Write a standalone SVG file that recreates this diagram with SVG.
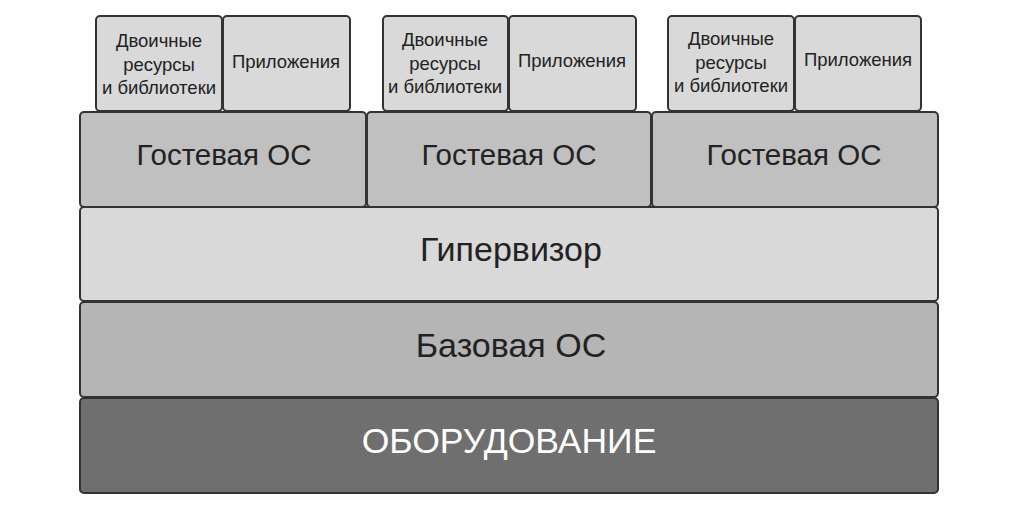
<svg xmlns="http://www.w3.org/2000/svg" width="1025" height="517" viewBox="0 0 1025 517">
<style>
rect{stroke:#333;stroke-width:2;}
.s{fill:#d9d9d9}
.g{fill:#c0c0c0}
.h{fill:#d9d9d9}
.b{fill:#b5b5b5}
.w{fill:#6f6f6f}
text{font-family:"Liberation Sans",Arial,sans-serif;text-anchor:middle;fill:#222}
.t16{font-size:18.5px}
.t26{font-size:29.5px}
.t30{font-size:34px}
.t35{font-size:35.5px}
.white{fill:#fff}
</style>
<rect width="1025" height="517" fill="#fff" style="stroke:none"/>
<g id="hw"><rect class="w" x="80" y="398" width="858" height="95" rx="4"/><text class="t35 white" x="509" y="453">ОБОРУДОВАНИЕ</text></g>
<g id="base"><rect class="b" x="80" y="302" width="858" height="95" rx="4"/><text class="t30" x="511" y="357">Базовая ОС</text></g>
<g id="hyp"><rect class="h" x="80" y="207" width="858" height="94" rx="4"/><text class="t30" x="511" y="261">Гипервизор</text></g>
<g id="g1"><rect class="g" x="80" y="112" width="286" height="95" rx="4"/><text class="t26" x="224" y="165">Гостевая ОС</text></g>
<g id="g2"><rect class="g" x="367" y="112" width="284" height="95" rx="4"/><text class="t26" x="509" y="165">Гостевая ОС</text></g>
<g id="g3"><rect class="g" x="652" y="112" width="286" height="95" rx="4"/><text class="t26" x="794" y="165">Гостевая ОС</text></g>
<g id="b1"><rect class="s" x="96" y="16" width="126" height="95" rx="4"/><text class="t16"><tspan x="159" y="47">Двоичные</tspan><tspan x="159" y="71">ресурсы</tspan><tspan x="159" y="94">и библиотеки</tspan></text></g>
<g id="a1"><rect class="s" x="223" y="16" width="127" height="95" rx="4"/><text class="t16" x="286" y="68">Приложения</text></g>
<g id="b2"><rect class="s" x="383" y="16" width="125" height="95" rx="4"/><text class="t16"><tspan x="445" y="46">Двоичные</tspan><tspan x="445" y="70">ресурсы</tspan><tspan x="445" y="93">и библиотеки</tspan></text></g>
<g id="a2"><rect class="s" x="509" y="16" width="127" height="95" rx="4"/><text class="t16" x="572" y="67">Приложения</text></g>
<g id="b3"><rect class="s" x="668" y="16" width="126" height="95" rx="4"/><text class="t16"><tspan x="731" y="45">Двоичные</tspan><tspan x="731" y="69">ресурсы</tspan><tspan x="731" y="92">и библиотеки</tspan></text></g>
<g id="a3"><rect class="s" x="795" y="16" width="126" height="95" rx="4"/><text class="t16" x="858" y="66">Приложения</text></g>
<g id="connectors"></g>
</svg>
